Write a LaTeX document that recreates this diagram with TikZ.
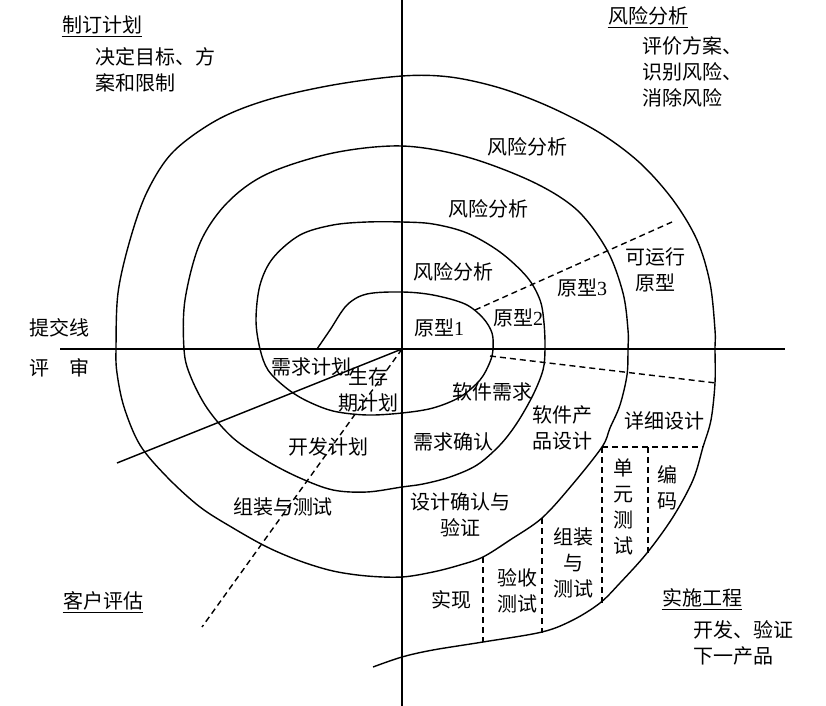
\documentclass[tikz,border=0pt]{standalone}
\usepackage{fontspec}
\setmainfont{Liberation Serif}
\newfontfamily\cjk{Noto Sans CJK SC}
\usepackage{tikz}
\usetikzlibrary{positioning}

\begin{document}
\begin{tikzpicture}[
	x=0.5pt,y=-0.5pt,
	axis/.style={line width=0.75pt},
	spiral/.style={line width=0.7pt},
	cut/.style={line width=0.7pt,dash pattern=on 3pt off 2pt},
	lbl/.style={font=\cjk\fontsize{10}{13}\selectfont,inner sep=0pt,align=center},
	note/.style={lbl,align=left,anchor=west},
	uline/.style={line width=0.5pt}
	]
	
	\useasboundingbox (0,0) rectangle (826,706);
	
	% axes
	\coordinate (O) at (402,349);
	\coordinate (N) at (402,0);
	\coordinate (S) at (402,706);
	\coordinate (W) at (60,349);
	\coordinate (E) at (785,349);
	\draw[axis] (N) -- (S);
	\draw[axis] (W) -- (E);
	
	% spiral
	\draw[spiral] plot[smooth,tension=0.55] coordinates {
		(317,349) (330,330) (347,305) (367,294) (402,292) (433,295) (465,304)
		(483,318) (492,333) (493,349) (490,362) (480,380) (460,397) (433,408)
		(402,413) (367,415) (333,411) (305,400) (285,387) (268,370) (260,349)
		(256,320) (260,285) (273,258) (300,235) (333,225) (367,222) (402,222)
		(433,224) (467,233) (500,252) (527,277) (540,300) (544,323) (545,349)
		(543,370) (533,395) (517,423) (500,445) (477,465) (450,477) (423,484)
		(402,487) (367,492) (333,490) (300,478) (267,461) (233,438) (207,408)
		(190,375) (184,349) (185,300) (200,243) (227,203) (267,174) (333,153)
		(402,146) (467,157) (533,182) (577,210) (607,250) (623,293) (628,330)
		(628,349) (627,375) (620,405) (610,428) (602,447) (572,485) (542,518)
		(510,540) (483,557) (460,565) (433,572) (402,577) (367,576) (333,571)
		(300,561) (267,547) (233,528) (200,507) (167,477) (140,445) (124,407)
		(117,373) (116,349) (118,293) (130,240) (147,192) (173,152) (217,120)
		(267,100) (333,85) (402,76) (450,77) (500,88) (550,107) (600,133)
		(640,163) (673,200) (697,240) (710,283) (715,330) (715,349) (715,383)
		(711,420) (703,447) (693,480) (673,517) (647,553) (620,583) (600,603)
		(573,620) (542,632) (483,642) (433,650) (402,657) (373,667)};
	
	% radial lines
	\coordinate (review) at (117,463);
	\coordinate (client) at (202,627);
	\coordinate (proA) at (475,310);
	\coordinate (proB) at (672,222);
	\coordinate (devA) at (490,356);
	\coordinate (devB) at (716,383);
	\draw[spiral] (O) -- (review);
	\draw[cut] (O) -- (client);
	\draw[cut] (proA) -- (proB);
	\draw[cut] (devA) -- (devB);
	
	% phase cuts
	\coordinate (dtA) at (602,447);
	\coordinate (dtB) at (703,447);
	\coordinate (ut) at (602,605);
	\coordinate (cdA) at (648,447);
	\coordinate (cd) at (648,553);
	\coordinate (itA) at (542,518);
	\coordinate (it) at (542,633);
	\coordinate (atA) at (483,557);
	\coordinate (at) at (483,642);
	\draw[cut] (dtA) -- (dtB);
	\draw[cut] (dtA) -- (ut);
	\draw[cut] (cdA) -- (cd);
	\draw[cut] (itA) -- (it);
	\draw[cut] (atA) -- (at);
	
	% quadrant titles
	\node[lbl] (plan) at (102,25) {制订计划};
	\node[note] (planT) at (95,70) {决定目标、方\\案和限制};
	\node[lbl] (risk) at (648,16) {风险分析};
	\node[note] (riskT) at (642,72) {评价方案、\\识别风险、\\消除风险};
	\node[lbl] (eval) at (103,601) {客户评估};
	\node[lbl] (eng) at (702,598) {实施工程};
	\node[note] (engT) at (693,643) {开发、验证\\下一产品};
	\node[lbl] (commit) at (60,328) {提交线};
	\node[lbl] (rev) at (60,368) {评\hspace{1em}审};
	\foreach \t in {plan,risk,eval,eng}
	\draw[uline] ([yshift=-0.8pt]\t.south west) -- ([yshift=-0.8pt]\t.south east);
	
	% risk analysis and prototypes
	\node[lbl] (r4) at (527,147) {风险分析};
	\node[lbl] (r3) at (488,209) {风险分析};
	\node[lbl] (r2) at (453,272) {风险分析};
	\node[lbl] (p1) at (439,328) {原型{\rmfamily 1}};
	\node[lbl] (p2) at (518,318) {原型{\rmfamily 2}};
	\node[lbl] (p3) at (582,288) {原型{\rmfamily 3}};
	\node[lbl] (op) at (655,270) {可运行\\原型};
	
	% planning
	\node[lbl] (req) at (311,367) {需求计划};
	\node[lbl] (life) at (368,390) {生存\\期计划};
	\node[lbl] (dev) at (328,447) {开发计划};
	\node[lbl] (integ) at (283,507) {组装与测试};
	
	% engineering
	\node[lbl] (sreq) at (492,392) {软件需求};
	\node[lbl] (rval) at (453,442) {需求确认};
	\node[lbl] (pd) at (562,428) {软件产\\品设计};
	\node[lbl] (dd) at (664,421) {详细设计};
	\node[lbl] (dval) at (460,515) {设计确认与\\验证};
	\node[lbl] (unit) at (623,507) {单\\元\\测\\试};
	\node[lbl] (code) at (667,488) {编\\码};
	\node[lbl] (itest) at (573,563) {组装\\与\\测试};
	\node[lbl] (atest) at (517,591) {验收\\测试};
	\node[lbl] (impl) at (451,600) {实现};
	
\end{tikzpicture}
\end{document}
